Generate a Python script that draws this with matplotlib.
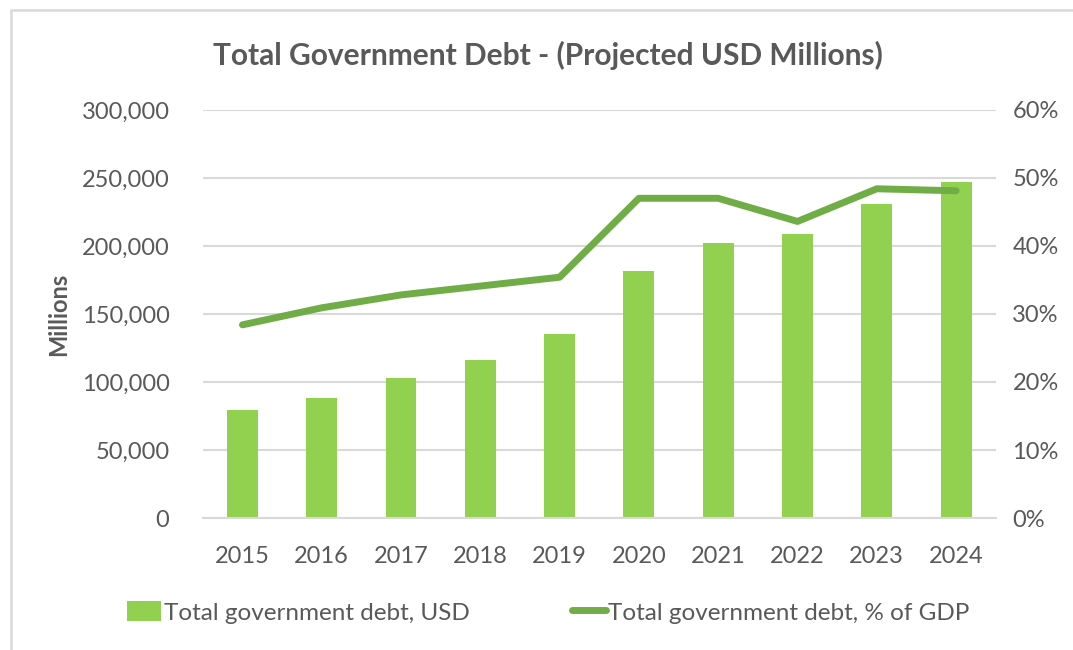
import matplotlib.pyplot as plt
from matplotlib.patches import Rectangle
from matplotlib.ticker import FuncFormatter, PercentFormatter

years = ["2015", "2016", "2017", "2018", "2019", "2020", "2021", "2022", "2023", "2024"]
debt_usd = [79400, 88500, 102700, 116200, 135000, 181500, 202300, 208600, 230800, 247000]
debt_pct_gdp = [28.4, 30.9, 32.8, 34.1, 35.4, 47.0, 47.0, 43.6, 48.4, 48.1]

bar_color = "#92D050"
line_color = "#70AD47"
text_color = "#595959"
grid_color = "#D9D9D9"

plt.rcParams["font.family"] = ["Lato", "DejaVu Sans"]

fig = plt.figure(figsize=(10.73, 6.5), dpi=100)
# chart frame, only the top and left edges fall inside the canvas
fig.patches.append(Rectangle((0.010, -0.2), 1.2, 1.184, transform=fig.transFigure,
                             fill=False, edgecolor=grid_color, linewidth=1.8))

ax = fig.add_axes([0.189, 0.203, 0.739, 0.628])
x = range(len(years))
bars = ax.bar(x, debt_usd, width=0.39, color=bar_color, zorder=2,
              label="Total government debt, USD")
ax.set_xlim(-0.5, len(years) - 0.5)
ax.set_ylim(0, 300000)
ax.set_yticks(range(0, 300001, 50000))
ax.yaxis.set_major_formatter(FuncFormatter(lambda v, _: f"{int(v):,}"))
ax.grid(axis="y", color=grid_color, linewidth=1.5, zorder=0)
ax.set_xticks(list(x))
ax.set_xticklabels(years)
ax.tick_params(length=0, labelsize=17, labelcolor=text_color)
ax.tick_params(axis="x", pad=20)
ax.tick_params(axis="y", pad=24)
for side in ["top", "right", "left"]:
    ax.spines[side].set_visible(False)
ax.spines["bottom"].set_color(grid_color)
ax.spines["bottom"].set_linewidth(1.5)
ax.set_ylabel("Millions", fontsize=17, fontweight="bold", color=text_color, labelpad=8)

ax2 = ax.twinx()
line, = ax2.plot(list(x), debt_pct_gdp, color=line_color, linewidth=5,
                 solid_capstyle="round", solid_joinstyle="round", zorder=3,
                 label="Total government debt, % of GDP")
ax2.set_ylim(0, 60)
ax2.set_yticks(range(0, 61, 10))
ax2.yaxis.set_major_formatter(PercentFormatter(decimals=0))
ax2.tick_params(length=0, labelsize=17, labelcolor=text_color, pad=12)
for side in ["top", "right", "left", "bottom"]:
    ax2.spines[side].set_visible(False)

fig.text(0.511, 0.915, "Total Government Debt - (Projected USD Millions)",
         ha="center", va="center", fontsize=21.5, fontweight="bold", color=text_color)

fig.legend([bars, line], [bars.get_label(), line.get_label()], loc="center",
           bbox_to_anchor=(0.511, 0.058), ncol=2, frameon=False, fontsize=17.5,
           labelcolor=text_color, handlelength=1.4, handleheight=0.9,
           handletextpad=0.1, columnspacing=4.2)

fig.savefig("out.png", dpi=100)
